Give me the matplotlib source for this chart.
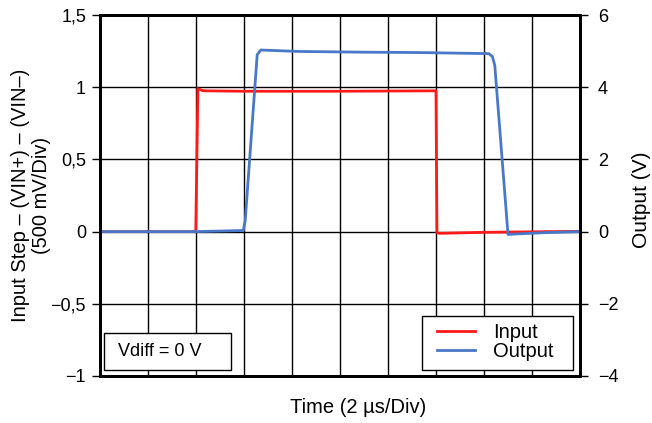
import matplotlib.pyplot as plt
from matplotlib.patches import Rectangle
from matplotlib.ticker import FixedLocator, FixedFormatter, MultipleLocator

plt.rcParams["font.family"] = ["Liberation Sans", "DejaVu Sans"]

# time in microseconds (2 us/div, 10 divisions)
input_time = [0, 3.0, 3.99, 4.08, 4.3, 6.0, 10.0, 14.0, 14.04, 14.15, 16.0, 20.0]
input_volts = [0, 0.0, 0.0, 0.99, 0.975, 0.972, 0.972, 0.975, -0.008, -0.012, -0.005, 0.002]

output_time = [0, 4.0, 5.97, 6.05, 6.55, 6.7, 8.3, 11.0, 13.3, 16.2, 16.35, 16.45, 17.0, 17.2, 18.5, 20.0]
output_volts = [0, 0.0, 0.03, 0.3, 4.9, 5.03, 4.99, 4.97, 4.96, 4.93, 4.85, 4.6, -0.08, -0.07, -0.03, 0.0]

left_ticks = [-1, -0.5, 0, 0.5, 1, 1.5]
left_labels = ["\u22121", "\u22120,5", "0", "0,5", "1", "1,5"]
right_ticks = [-4, -2, 0, 2, 4, 6]
right_labels = ["\u22124", "\u22122", "0", "2", "4", "6"]

INPUT_COLOR = "#FF1A1A"
OUTPUT_COLOR = "#4A78C8"

fig = plt.figure(figsize=(6.52, 4.23), dpi=100)
ax = fig.add_axes([100 / 652, 1 - 376 / 423, 480 / 652, 361 / 423])
ax2 = ax.twinx()

ax.set_xlim(0, 20)
ax.set_ylim(-1, 1.5)
ax2.set_ylim(-4, 6)

ax.xaxis.set_major_locator(MultipleLocator(2))
ax.tick_params(axis="x", length=0, labelbottom=False)
ax.yaxis.set_major_locator(FixedLocator(left_ticks))
ax.yaxis.set_major_formatter(FixedFormatter(left_labels))
ax2.yaxis.set_major_locator(FixedLocator(right_ticks))
ax2.yaxis.set_major_formatter(FixedFormatter(right_labels))

ax.grid(True, color="black", linewidth=1.0)
ax.set_axisbelow(True)

for a in (ax, ax2):
    for spine in a.spines.values():
        spine.set_linewidth(2.0)
ax.tick_params(axis="y", direction="out", length=6, width=1, labelsize=13, pad=4)
ax2.tick_params(axis="y", direction="out", length=6, width=1, labelsize=13, pad=7)

l1, = ax.plot(input_time, input_volts, color=INPUT_COLOR, linewidth=2, label="Input")
l2, = ax2.plot(output_time, output_volts, color=OUTPUT_COLOR, linewidth=2, label="Output")

ax.set_xlabel("Time (2 \u00b5s/Div)", fontsize=14.5)
ax.xaxis.set_label_coords(258 / 480, -22 / 361)
ax.set_ylabel("Input Step \u2013 (VIN+) \u2013 (VIN\u2013)\n(500 mV/Div)", fontsize=14.5,
              linespacing=1.1)
ax.yaxis.set_label_coords(-49 / 480, 0.5)
ax2.set_ylabel("Output (V)", fontsize=15)
ax2.yaxis.set_label_coords(532 / 480, 176 / 361)

# legend frame drawn separately so the padding matches the original box
ax2.add_patch(Rectangle((322 / 480, 6 / 361), 151 / 480, 54 / 361, transform=ax.transAxes,
                        facecolor="white", edgecolor="black", linewidth=1, zorder=4))
ax2.legend(handles=[l1, l2], loc="center left", fontsize=14.5, frameon=False,
           handlelength=1.9, handletextpad=0.9, borderpad=0, labelspacing=0.0,
           borderaxespad=0, bbox_to_anchor=(337 / 480, 34 / 361))

ax2.add_patch(Rectangle((4 / 480, 6 / 361), 127 / 480, 37 / 361, transform=ax.transAxes,
                        facecolor="white", edgecolor="black", linewidth=1, zorder=5))
ax2.text(18 / 480, 24.5 / 361, "Vdiff = 0 V", transform=ax.transAxes, fontsize=13,
         ha="left", va="center", zorder=6)

fig.savefig("out.png", dpi=100)
